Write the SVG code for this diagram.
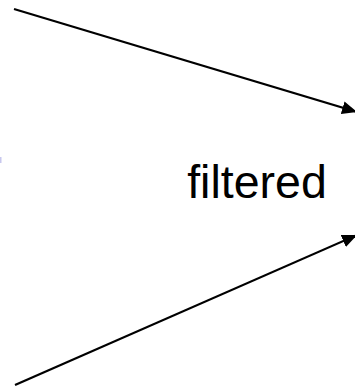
<svg xmlns="http://www.w3.org/2000/svg" width="355" height="386" viewBox="0 0 355 386">
<style>
.edge{stroke:#000;stroke-width:2.2;fill:none}
.lbl{font-family:"Liberation Sans",Arial,sans-serif;font-size:46.5px;fill:#000}
</style>
<defs>
<marker id="arr" viewBox="0 0 15 13" refX="15" refY="6.5" markerWidth="15" markerHeight="13" markerUnits="userSpaceOnUse" orient="auto">
<path d="M0,0 L15,6.5 L0,13 z" fill="#000"/>
</marker>
</defs>
<rect width="355" height="386" fill="#fff"/>
<g id="connectors">
<line class="edge" x1="14" y1="9" x2="357" y2="112" marker-end="url(#arr)"/>
<line class="edge" x1="15" y1="385" x2="357" y2="235" marker-end="url(#arr)"/>
</g>
<g id="node-filtered">
<text class="lbl" x="257" y="198" text-anchor="middle">filtered</text>
</g>
<rect x="0" y="157" width="1.5" height="6" fill="#c8c8ee"/>
</svg>
